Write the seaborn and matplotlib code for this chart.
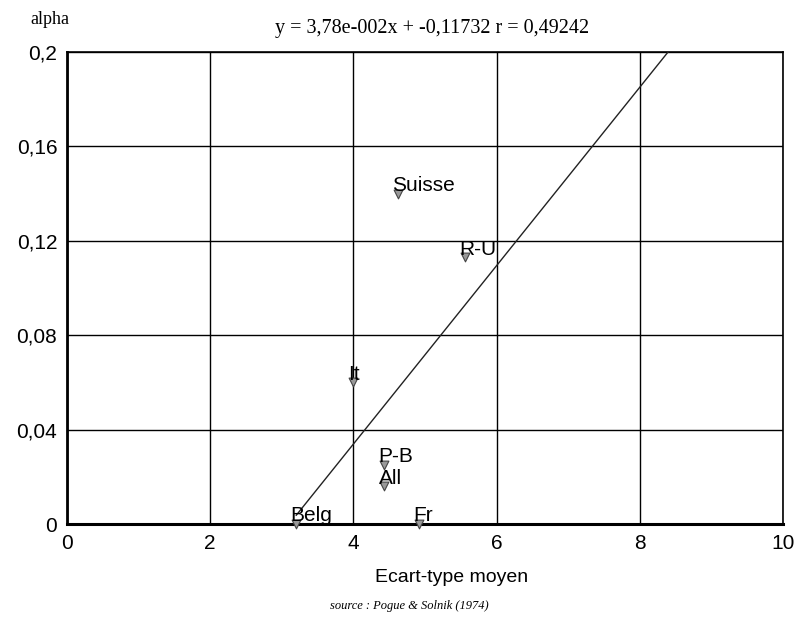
import numpy as np
import pandas as pd
import matplotlib
matplotlib.use("Agg")
import matplotlib.pyplot as plt
import seaborn as sns

# Average standard deviation vs. alpha per country
countries = ["Belg", "Fr", "All", "P-B", "It", "Suisse", "R-U"]
ecart_type = [3.20, 4.92, 4.43, 4.43, 4.00, 4.62, 5.56]
alpha = [0.000, 0.000, 0.016, 0.025, 0.060, 0.140, 0.113]

# Fitted regression line
slope = 3.78e-2
intercept = -0.11732
r_value = 0.49242

x_ticks = [0, 2, 4, 6, 8, 10]
x_tick_labels = ["0", "2", "4", "6", "8", "10"]
y_ticks = [0, 0.04, 0.08, 0.12, 0.16, 0.2]
y_tick_labels = ["0", "0,04", "0,08", "0,12", "0,16", "0,2"]

df = pd.DataFrame({"pays": countries, "ecart": ecart_type, "alpha": alpha})

sns.set_theme(style="white")
plt.rcParams["font.family"] = ["Liberation Sans", "DejaVu Sans"]
plt.rcParams["text.color"] = "black"

fig = plt.figure(figsize=(7.99, 6.23), dpi=100)
ax = fig.add_axes([67 / 799, 99 / 623, 716 / 799, 472 / 623])

ax.set_xlim(0, 10)
ax.set_ylim(0, 0.2)
ax.set_xticks(x_ticks)
ax.set_xticklabels(x_tick_labels, fontsize=15)
ax.set_yticks(y_ticks)
ax.set_yticklabels(y_tick_labels, fontsize=15)
ax.tick_params(axis="both", length=0, pad=7, colors="black")
ax.grid(True, color="black", linewidth=1.0)
for name, sp in ax.spines.items():
    sp.set_color("black")
    sp.set_linewidth(1.2)
ax.spines["bottom"].set_linewidth(2.2)
ax.spines["left"].set_linewidth(2.0)

# Regression line
x_line = np.array([min(ecart_type), 10.0])
ax.plot(x_line, slope * x_line + intercept, color="#222222", linewidth=1.0, zorder=3)

# Data points
sns.scatterplot(data=df, x="ecart", y="alpha", ax=ax, marker="v", s=40,
                color="#999999", edgecolor="#444444", linewidth=0.8,
                zorder=4, clip_on=False, legend=False)

for name, xv, yv in zip(countries, ecart_type, alpha):
    ax.annotate(name, (xv, yv), xytext=(-4, -1), textcoords="offset points",
                ha="left", va="bottom", fontsize=15, color="black", zorder=5)

ax.set_xlabel("")
ax.set_ylabel("")

fig.text(452 / 799, 1 - 578 / 623, "Ecart-type moyen", ha="center", va="center",
         fontsize=14, color="black")
fig.text(409 / 799, 1 - 606 / 623, "source : Pogue & Solnik (1974)", ha="center",
         va="center", fontsize=9, style="italic", family=["Liberation Serif"], color="black")
fig.text(30 / 799, 1 - 20 / 623, "alpha", ha="left", va="center", fontsize=13,
         family=["Liberation Serif"], color="black")
eq = "y = 3,78e-002x + -0,11732 r = 0,49242"
fig.text(432 / 799, 1 - 28 / 623, eq, ha="center", va="center", fontsize=14.5,
         family=["Liberation Serif"], color="black")

fig.savefig("out.png", dpi=100, facecolor="white")
